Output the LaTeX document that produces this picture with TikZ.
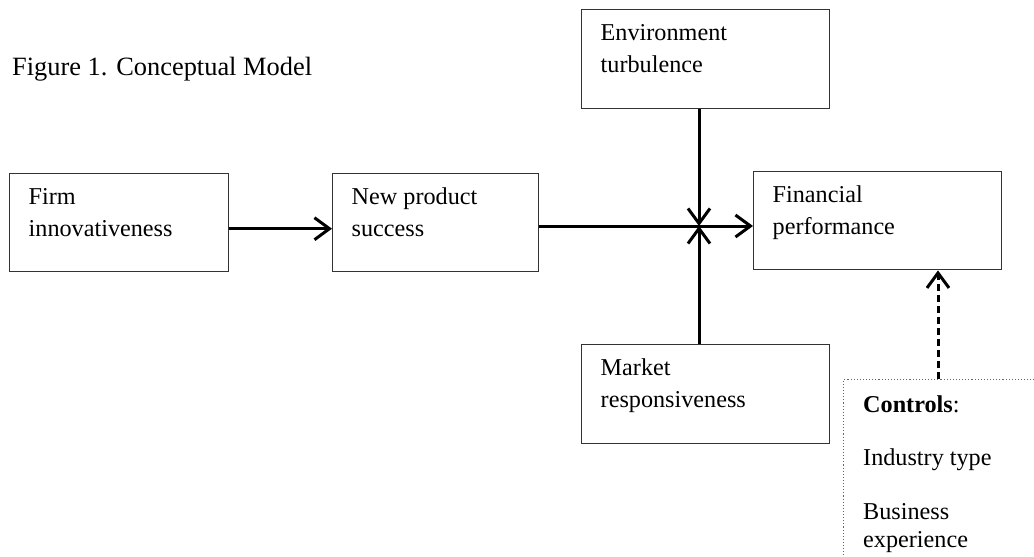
\documentclass[tikz,border=0pt]{standalone}
\usepackage{fontspec}
\setmainfont{Liberation Serif}
\usetikzlibrary{arrows.meta}
\begin{document}
\begin{tikzpicture}[x=1pt,y=-1pt,
  box/.style={draw=black!80, line width=1.4pt, rectangle, inner sep=0pt, anchor=north west},
  ctrlbox/.style={draw=black!60, line width=1.1pt, dotted, rectangle, inner sep=0pt, anchor=north west},
  txt/.style={anchor=north west, inner sep=0pt, align=left, xshift=19.5pt, yshift=-15pt,
    font=\fontsize{24.2}{32}\selectfont},
  link/.style={line width=3pt, draw=black, -{Straight Barb[length=15pt,width=22pt]}},
  dlink/.style={link, dash pattern=on 7pt off 4pt}
]
\useasboundingbox (0,0) rectangle (1034,557);

\node[anchor=base west, inner sep=0pt, font=\fontsize{26.4}{32}\selectfont] (title) at (12,75) {Figure 1. Conceptual Model};

\node[box, minimum width=219pt, minimum height=98pt] (firm) at (9,173) {};
\node[box, minimum width=206pt, minimum height=98pt] (newp) at (332,173) {};
\node[box, minimum width=248pt, minimum height=99pt] (env) at (581,9) {};
\node[box, minimum width=248pt, minimum height=98pt] (fin) at (753,171) {};
\node[box, minimum width=248pt, minimum height=99pt] (mkt) at (581,344) {};
\node[ctrlbox, minimum width=260pt, minimum height=260pt] (ctrl) at (843,379) {};

\node[txt] (firmt) at (firm.north west) {Firm\\innovativeness};
\node[txt] (newpt) at (newp.north west) {New product\\success};
\node[txt] (envt) at (env.north west) {Environment\\turbulence};
\node[txt] (fint) at (fin.north west) {Financial\\performance};
\node[txt] (mktt) at (mkt.north west) {Market\\responsiveness};
\node[anchor=north west, inner sep=0pt, align=left, xshift=20pt, yshift=-16.3pt,
  font=\fontsize{24.2}{28}\selectfont] (ctrlt) at (ctrl.north west)
  {\textbf{Controls}:\\[25.5pt]Industry type\\[25.5pt]Business\\experience};

\coordinate (hub) at (699,226);
\coordinate (cx) at (938,379);

\draw[link] ([yshift=-6pt]firm.east) -- ([yshift=-6pt]newp.west);
\draw[link] (newp.east |- hub) -- (fin.west |- hub);
\draw[link] (env.south -| hub) -- (hub);
\draw[link] (mkt.north -| hub) -- (hub);
\draw[dlink] (ctrl.north -| cx) -- (fin.south -| cx);
\end{tikzpicture}
\end{document}
